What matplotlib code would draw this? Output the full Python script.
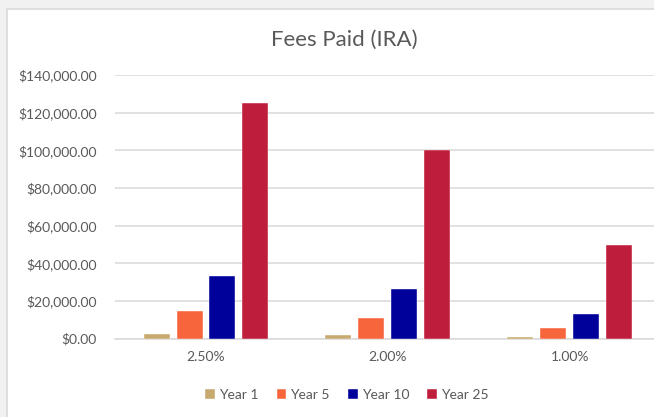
import matplotlib
matplotlib.use("Agg")
import matplotlib.pyplot as plt
import numpy as np
from matplotlib.patches import Rectangle
from matplotlib.ticker import FuncFormatter

categories = ["2.50%", "2.00%", "1.00%"]
series_names = ["Year 1", "Year 5", "Year 10", "Year 25"]
year1 = [2500, 2100, 900]
year5 = [14500, 11150, 5700]
year10 = [33100, 26200, 13100]
year25 = [125100, 100200, 49700]
colors = ["#C8A96E", "#F6653C", "#00009A", "#BE1E3C"]
yticks = [0, 20000, 40000, 60000, 80000, 100000, 120000, 140000]

plt.rcParams['font.family'] = ['Lato', 'DejaVu Sans']

W, H = 654, 417
fig = plt.figure(figsize=(W / 100, H / 100), dpi=100)
fig.patch.set_facecolor("#F1F1F1")
panel = Rectangle((7 / W, -0.05), 1.1, 1 - 9 / H + 0.05, transform=fig.transFigure,
                  facecolor="white", edgecolor="#D9D9D9", linewidth=1.2, zorder=-5)
fig.add_artist(panel)

left = 115 / W
width = 546 / W
bottom = 1 - 338.7 / H
top = 1 - 75 / H
ax = fig.add_axes([left, bottom, width, top - bottom])
ax.set_facecolor("none")
ax.set_zorder(5)

x = np.arange(len(categories))
pitch = 33 / 182
bw = 26 / 182
data = [year1, year5, year10, year25]
for i, (vals, name, c) in enumerate(zip(data, series_names, colors)):
    ax.bar(x + (i - 1.5) * pitch, vals, width=bw, color=c, label=name, zorder=3,
           edgecolor="white", linewidth=0.3)

ax.set_xlim(-0.5, len(categories) - 0.5)
ax.set_ylim(0, 140000)
ax.set_yticks(yticks)
ax.yaxis.set_major_formatter(FuncFormatter(lambda v, p: f"${v:,.2f}"))
ax.set_xticks(x)
ax.set_xticklabels(categories)
ax.grid(axis="y", color="#D9D9D9", linewidth=1.1, zorder=0)
ax.set_axisbelow(True)
for s in ["top", "right", "left"]:
    ax.spines[s].set_visible(False)
ax.spines["bottom"].set_color("#D9D9D9")
ax.spines["bottom"].set_linewidth(1.1)
ax.tick_params(axis="both", length=0, colors="#595959", labelsize=10)
ax.tick_params(axis="y", pad=13)
ax.tick_params(axis="x", pad=9)

fig.text(344 / W, 1 - 40 / H, "Fees Paid (IRA)", ha="center", va="center",
         fontsize=16, color="#595959", zorder=6)

handles, labels = ax.get_legend_handles_labels()
leg = fig.legend(handles, labels, loc="center", bbox_to_anchor=(347 / W, 1 - 395 / H),
                 ncol=4, frameon=False, fontsize=10, handlelength=0.7, handleheight=0.7,
                 handletextpad=0.3, columnspacing=1.3, labelcolor="#595959")
leg.set_zorder(6)

fig.savefig("out.png", dpi=100, facecolor=fig.get_facecolor())
